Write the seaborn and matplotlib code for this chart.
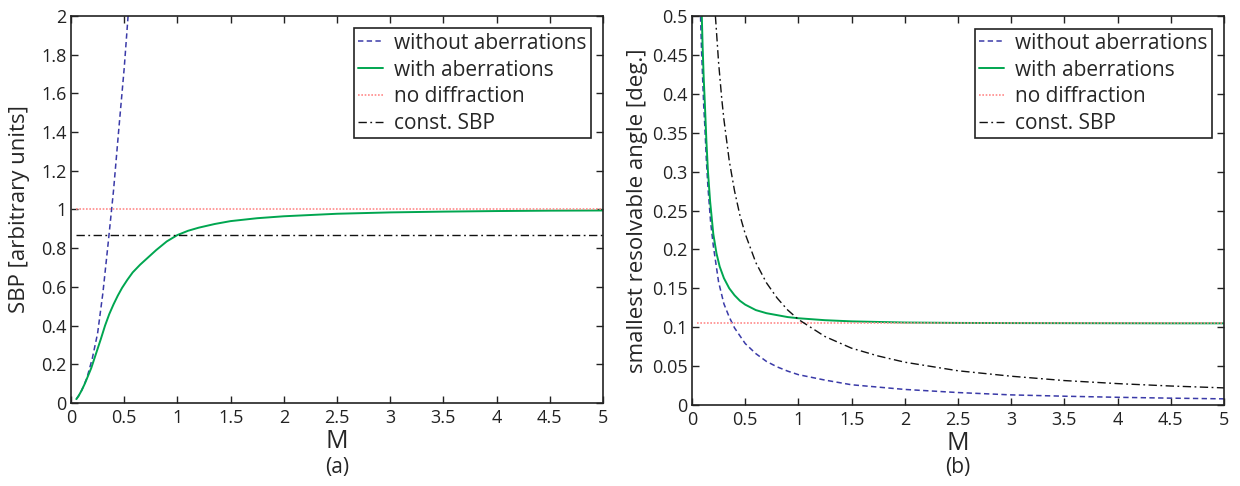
import numpy as np
import pandas as pd
import matplotlib
matplotlib.use("Agg")
import matplotlib.pyplot as plt
import seaborn as sns

# ---------------- data ----------------
# Panel (a): SBP vs M
m_a_noab = [0.05, 0.08, 0.10, 0.12, 0.15, 0.18, 0.20, 0.25, 0.30, 0.35, 0.40, 0.45, 0.50, 0.55]
sbp_noab = [0.02, 0.045, 0.065, 0.09, 0.13, 0.19, 0.23, 0.36, 0.57, 0.83, 1.10, 1.42, 1.73, 2.10]

m_a_ab = [0.05, 0.07, 0.10, 0.13, 0.16, 0.19, 0.22, 0.25, 0.28, 0.32, 0.36, 0.40, 0.44, 0.48,
          0.53, 0.58, 0.65, 0.72, 0.80, 0.90, 1.0, 1.1, 1.2, 1.35, 1.5, 1.75, 2.0, 2.5,
          3.0, 3.5, 4.0, 4.5, 5.0]
sbp_ab = [0.02, 0.035, 0.065, 0.10, 0.14, 0.18, 0.23, 0.28, 0.33, 0.40, 0.46, 0.51, 0.555, 0.595,
          0.637, 0.675, 0.715, 0.75, 0.79, 0.835, 0.868, 0.89, 0.906, 0.925, 0.94, 0.955, 0.965, 0.978,
          0.985, 0.989, 0.992, 0.994, 0.995]

m_a_flat = [0.05, 5.0]
sbp_nodiff = [1.0, 1.0]
sbp_const = [0.87, 0.87]

# Panel (b): smallest resolvable angle vs M
m_b_noab = [0.07, 0.08, 0.09, 0.10, 0.11, 0.12, 0.135, 0.15, 0.175, 0.20, 0.25, 0.30, 0.35, 0.40,
            0.50, 0.60, 0.70, 0.80, 0.90, 1.0, 1.25, 1.5, 2.0, 2.5, 3.0, 3.5, 4.0, 4.5, 5.0]
ang_noab = [0.57, 0.50, 0.455, 0.42, 0.385, 0.36, 0.315, 0.28, 0.235, 0.205, 0.158, 0.130, 0.113, 0.099,
            0.079, 0.066, 0.056, 0.049, 0.0435, 0.039, 0.032, 0.026, 0.020, 0.016, 0.013, 0.0113, 0.0099,
            0.0088, 0.0079]

m_b_ab = [0.08, 0.09, 0.10, 0.11, 0.12, 0.135, 0.15, 0.17, 0.20, 0.23, 0.26, 0.30, 0.35, 0.40,
          0.45, 0.50, 0.60, 0.70, 0.80, 0.90, 1.0, 1.25, 1.5, 2.0, 2.5, 3.0, 3.5, 4.0, 4.5, 5.0]
ang_ab = [0.56, 0.51, 0.46, 0.42, 0.39, 0.34, 0.30, 0.262, 0.22, 0.195, 0.178, 0.163, 0.150, 0.141,
          0.134, 0.129, 0.122, 0.118, 0.1155, 0.113, 0.1115, 0.109, 0.1075, 0.106, 0.1055, 0.1053,
          0.1052, 0.1051, 0.105, 0.105]

m_b_const = [0.20, 0.22, 0.25, 0.28, 0.30, 0.35, 0.40, 0.45, 0.50, 0.60, 0.70, 0.80, 0.90, 1.0,
             1.25, 1.5, 1.75, 2.0, 2.5, 3.0, 3.5, 4.0, 4.5, 5.0]
ang_const = [0.55, 0.50, 0.44, 0.393, 0.367, 0.314, 0.275, 0.244, 0.22, 0.183, 0.157, 0.1375, 0.122,
             0.11, 0.088, 0.073, 0.063, 0.055, 0.044, 0.037, 0.0314, 0.0275, 0.0244, 0.022]

m_b_flat = [0.05, 5.0]
ang_nodiff = [0.105, 0.105]

labels = ["without aberrations", "with aberrations", "no diffraction", "const. SBP"]
x_ticks = [0, 0.5, 1, 1.5, 2, 2.5, 3, 3.5, 4, 4.5, 5]
y_ticks_a = [0, 0.2, 0.4, 0.6, 0.8, 1.0, 1.2, 1.4, 1.6, 1.8, 2.0]
y_ticks_b = [0, 0.05, 0.1, 0.15, 0.2, 0.25, 0.3, 0.35, 0.4, 0.45, 0.5]

# ---------------- styling ----------------
sns.set_theme(style="ticks")
plt.rcParams['font.family'] = ['Open Sans', 'DejaVu Sans']

C_BLUE = "#3a3aa8"
C_GREEN = "#00a650"
C_PINK = "#ff8a8a"
C_BLACK = "#111111"
LS_DASH = (0, (3.5, 2.2))
LS_DOT = (0, (1, 1))
LS_DASHDOT = (0, (6, 2.5, 1.3, 2.5))

fig = plt.figure(figsize=(12.4, 4.86), dpi=100)
ax_a = fig.add_axes([71 / 1240, 1 - 403 / 486, 532 / 1240, 387 / 486])
ax_b = fig.add_axes([692 / 1240, 1 - 405 / 486, 532 / 1240, 389 / 486])


def style_axes(ax, yticks, ylim):
    ax.set_xlim(0, 5)
    ax.set_ylim(*ylim)
    ax.set_xticks(x_ticks)
    ax.set_xticklabels(["%g" % t for t in x_ticks])
    ax.set_yticks(yticks)
    ax.set_yticklabels(["%g" % t for t in yticks])
    ax.tick_params(direction="in", length=5, width=1.0, top=True, right=True,
                   labelsize=13, colors="#222222", pad=4)
    ax.tick_params(axis="y", pad=3)
    for s in ax.spines.values():
        s.set_visible(True)
        s.set_color("#222222")
        s.set_linewidth(1.2)


def draw(ax, xs, ys, color, ls, lw, label):
    df = pd.DataFrame({"M": xs, "v": ys})
    sns.lineplot(data=df, x="M", y="v", ax=ax, color=color, linestyle=ls,
                 linewidth=lw, label=label, sort=True, estimator=None)


# Panel (a)
draw(ax_a, m_a_noab, sbp_noab, C_BLUE, LS_DASH, 1.1, labels[0])
draw(ax_a, m_a_ab, sbp_ab, C_GREEN, "-", 1.4, labels[1])
draw(ax_a, m_a_flat, sbp_nodiff, C_PINK, LS_DOT, 1.2, labels[2])
draw(ax_a, m_a_flat, sbp_const, C_BLACK, LS_DASHDOT, 1.0, labels[3])
style_axes(ax_a, y_ticks_a, (0, 2))
ax_a.set_xlabel("M", fontsize=18, labelpad=2)
ax_a.set_ylabel("SBP [arbitrary units]", fontsize=16, labelpad=8)

# Panel (b)
draw(ax_b, m_b_noab, ang_noab, C_BLUE, LS_DASH, 1.1, labels[0])
draw(ax_b, m_b_ab, ang_ab, C_GREEN, "-", 1.4, labels[1])
draw(ax_b, m_b_flat, ang_nodiff, C_PINK, LS_DOT, 1.2, labels[2])
draw(ax_b, m_b_const, ang_const, C_BLACK, LS_DASHDOT, 1.0, labels[3])
style_axes(ax_b, y_ticks_b, (0, 0.5))
ax_b.set_xlabel("M", fontsize=18, labelpad=2)
ax_b.set_ylabel("smallest resolvable angle [deg.]", fontsize=16, labelpad=3)

for ax in (ax_a, ax_b):
    leg = ax.legend(loc="upper right", fontsize=15, frameon=True, fancybox=False,
                    handlelength=1.2, handletextpad=0.5, borderpad=0.2,
                    labelspacing=0.28, borderaxespad=0.6)
    fr = leg.get_frame()
    fr.set_edgecolor("#222222")
    fr.set_linewidth(1.2)
    fr.set_alpha(1.0)

fig.text((71 + 532 / 2) / 1240, 1 - 468 / 486, "(a)", ha="center", va="center", fontsize=15)
fig.text((692 + 532 / 2) / 1240, 1 - 468 / 486, "(b)", ha="center", va="center", fontsize=15)

fig.savefig("out.png", dpi=100)
